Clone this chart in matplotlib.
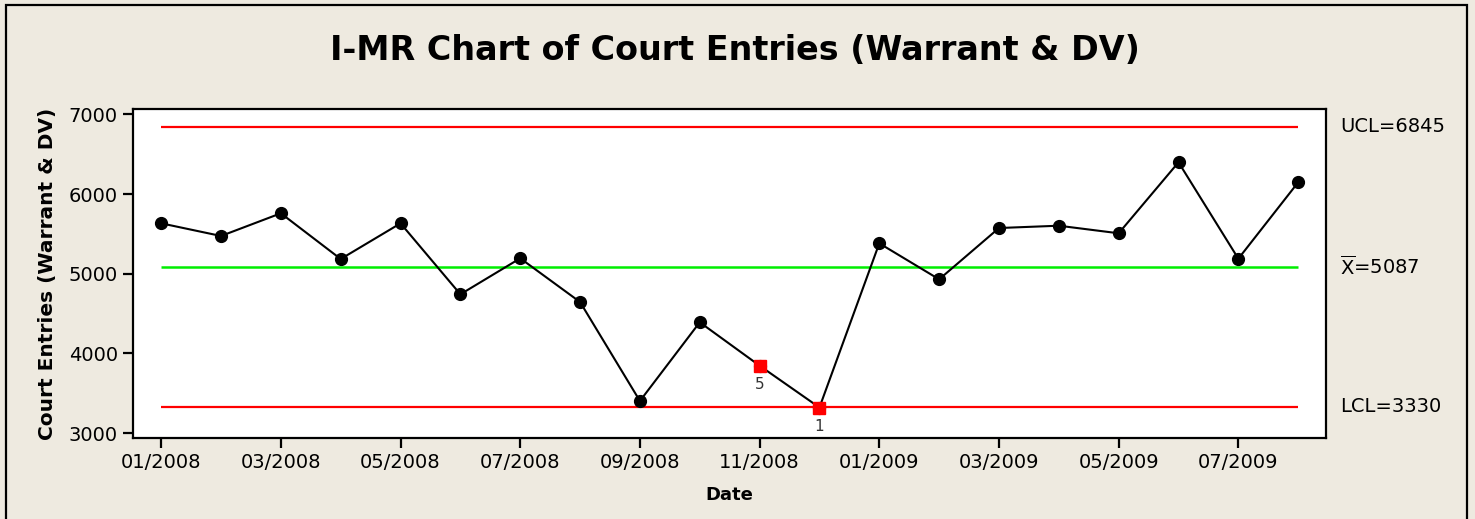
#!/usr/bin/env python3
"""
I-MR individuals chart of monthly court entries (warrant & DV).
Saves out.png
"""

import matplotlib.pyplot as plt
from matplotlib.patches import Rectangle

months = ["01/2008", "02/2008", "03/2008", "04/2008", "05/2008", "06/2008",
          "07/2008", "08/2008", "09/2008", "10/2008", "11/2008", "12/2008",
          "01/2009", "02/2009", "03/2009", "04/2009", "05/2009", "06/2009",
          "07/2009", "08/2009"]
entries = [5632, 5473, 5758, 5184, 5632, 4741, 5193, 4644, 3402, 4390,
           3845, 3320, 5381, 4929, 5573, 5602, 5507, 6398, 5188, 6147]

# control limits
ucl = 6845
center = 5087
lcl = 3330

# points failing a test: index -> test number
flagged = {10: "5", 11: "1"}

BG = "#EEEAE0"


def main():
    fig = plt.figure(figsize=(14.75, 5.19), dpi=100, facecolor=BG)
    fig.patches.append(Rectangle((0.004, -0.02), 0.9905, 1.01, transform=fig.transFigure,
                                 fill=False, edgecolor="black", lw=1.6))
    ax = fig.add_axes([0.0902, 0.156, 0.809, 0.634])
    x = list(range(len(entries)))

    ax.hlines([ucl, lcl], x[0], x[-1], color="#FF0000", lw=1.6, zorder=2)
    ax.hlines(center, x[0], x[-1], color="#00EE00", lw=1.8, zorder=2)

    ax.plot(x, entries, color="black", lw=1.5, marker="o", ms=8.5,
            markerfacecolor="black", zorder=3)
    for i, lab in flagged.items():
        ax.plot(x[i], entries[i], marker="s", ms=9, color="#FF0000",
                linestyle="none", zorder=4)
        ax.annotate(lab, (x[i], entries[i]), xytext=(0, -8), textcoords="offset points",
                    ha="center", va="top", fontsize=11, color="#333333")

    ax.set_xlim(-0.47, 19.47)
    ax.set_ylim(2937, 7067)
    ax.set_yticks([3000, 4000, 5000, 6000, 7000])
    ax.set_xticks(x[::2])
    ax.set_xticklabels(months[::2])
    ax.tick_params(direction="out", length=7, width=1.6, labelsize=14, pad=4)
    for s in ax.spines.values():
        s.set_linewidth(1.6)

    ax.set_xlabel("Date", fontsize=13, fontweight="bold", labelpad=10)
    ax.set_ylabel("Court Entries (Warrant & DV)", fontsize=14.5, fontweight="bold",
                  labelpad=8)
    fig.text(0.498, 0.902, "I-MR Chart of Court Entries (Warrant & DV)",
             ha="center", va="center", fontsize=24, fontweight="bold")

    # limit labels to the right of the plot
    lab_x = (1340 - 133) / (1326 - 133)
    trans = ax.get_yaxis_transform()
    for val, txt in [(ucl, "UCL=6845"),
                     (center, r"$\overline{\mathrm{X}}$=5087"),
                     (lcl, "LCL=3330")]:
        ax.text(lab_x, val, txt, transform=trans, fontsize=14, va="center",
                clip_on=False)

    fig.savefig("out.png", dpi=100, facecolor=BG)
    plt.close(fig)


if __name__ == "__main__":
    main()
